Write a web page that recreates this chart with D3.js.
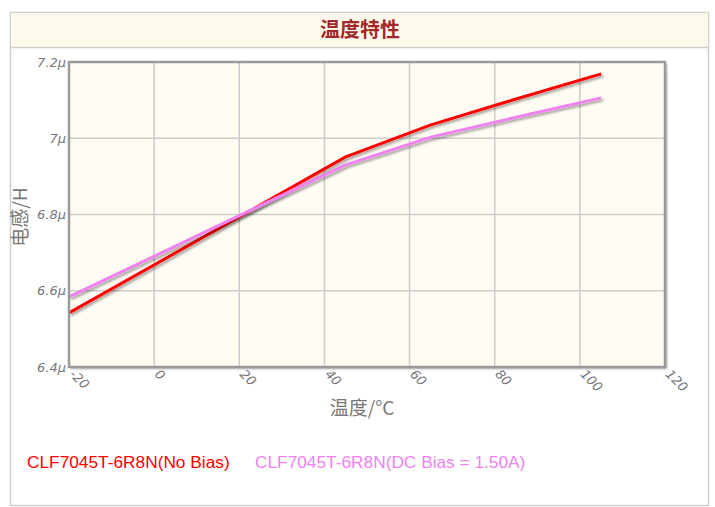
<!DOCTYPE html>
<html><head><meta charset="utf-8">
<script src="https://cdn.jsdelivr.net/npm/d3@7"></script>
<style>
html,body{margin:0;padding:0;background:#fff;}
svg{display:block;}
</style></head>
<body>
<svg id="chart" width="715" height="507"></svg>
<script>
const temps = [-20, 45, 65, 85, 105];
const noBias = [6.542, 6.951, 7.035, 7.103, 7.169];
const dcBias = [6.584, 6.930, 7.003, 7.055, 7.106];
const xTicks = [-20, 0, 20, 40, 60, 80, 100, 120];
const xTickLabels = ["-20", "0", "20", "40", "60", "80", "100", "120"];
const yTicks = [6.4, 6.6, 6.8, 7.0, 7.2];
const yTickLabels = ["6.4µ", "6.6µ", "6.8µ", "7µ", "7.2µ"];
const seriesNames = ["CLF7045T-6R8N(No Bias)", "CLF7045T-6R8N(DC Bias = 1.50A)"];
const seriesColors = ["#ff0000", "#ee82ee"];
const title = "温度特性";
const xTitle = "温度/°C";
const yTitle = "电感/H";

const svg = d3.select("#chart");
const defs = svg.append("defs");
const f = defs.append("filter").attr("id","sh").attr("x","-5%").attr("y","-5%").attr("width","115%").attr("height","130%");
f.append("feDropShadow").attr("dx",2).attr("dy",2).attr("stdDeviation",1.2).attr("flood-color","#000").attr("flood-opacity",0.35);

// outer box
svg.append("rect").attr("x",10.5).attr("y",12.5).attr("width",698).attr("height",493)
  .attr("fill","#fff").attr("stroke","#cfcfcf").attr("stroke-width",1.5);
svg.append("rect").attr("x",11).attr("y",13).attr("width",697).attr("height",34).attr("fill","#fef9eb");
svg.append("line").attr("x1",10).attr("x2",709).attr("y1",47.5).attr("y2",47.5).attr("stroke","#cfcfcf").attr("stroke-width",1.5);
svg.append("text").attr("x",360).attr("y",37).attr("text-anchor","middle")
  .attr("font-family","'Noto Sans CJK SC'").attr("font-weight","bold").attr("font-size",20)
  .attr("fill","#a3282a").text(title);

const L=69, R=665, T=62, B=367;
const x = d3.scaleLinear().domain([-20,120]).range([L,R]);
const y = d3.scaleLinear().domain([6.4,7.2]).range([B,T]);

// plot background with shadow
svg.append("rect").attr("x",L).attr("y",T).attr("width",R-L).attr("height",B-T)
  .attr("fill","#fffcf3").attr("filter","url(#sh)");

// grid
const g = svg.append("g");
g.selectAll(".vg").data(xTicks.slice(1,-1)).enter().append("line")
  .attr("x1",d=>x(d)).attr("x2",d=>x(d)).attr("y1",T).attr("y2",B)
  .attr("stroke","#cccccc").attr("stroke-width",1.5);
g.selectAll(".hg").data(yTicks.slice(1,-1)).enter().append("line")
  .attr("x1",L).attr("x2",R).attr("y1",d=>y(d)).attr("y2",d=>y(d))
  .attr("stroke","#cccccc").attr("stroke-width",1.5);

// lines
const line = d3.line().x((d,i)=>x(temps[i])).y(d=>y(d));
[noBias, dcBias].forEach((s,k)=>{
  svg.append("path").datum(s).attr("d",line).attr("fill","none")
    .attr("stroke",seriesColors[k]).attr("stroke-width",3).attr("stroke-linejoin","round")
    .attr("filter","url(#sh)");
});

// frame
svg.append("rect").attr("x",L).attr("y",T).attr("width",R-L).attr("height",B-T)
  .attr("fill","none").attr("stroke","#9a9a9a").attr("stroke-width",2.5);

// axes ticks
const yAxis = d3.axisLeft(y).tickValues(yTicks).tickFormat((d,i)=>yTickLabels[i]).tickSize(0).tickPadding(2);
const ya = svg.append("g").attr("transform",`translate(${L-1},0)`).call(yAxis);
ya.select(".domain").remove();
ya.selectAll("text").attr("font-family","'DejaVu Sans'").attr("font-size",13).attr("fill","#777").attr("font-style","italic");

const xAxis = d3.axisBottom(x).tickValues(xTicks).tickSize(0).tickFormat((d,i)=>xTickLabels[i]);
const xa = svg.append("g").attr("transform",`translate(0,${B+3})`).call(xAxis);
xa.select(".domain").remove();
xa.selectAll("text").attr("font-family","'DejaVu Sans'").attr("font-size",13).attr("fill","#777")
  .attr("font-style","italic")
  .attr("text-anchor","start").attr("dy",null).attr("y",0)
  .attr("transform","rotate(45) translate(3,4)");

// axis titles
svg.append("text").attr("x",362).attr("y",415).attr("text-anchor","middle")
  .attr("font-family","'Noto Sans CJK SC'").attr("font-size",19).attr("fill","#777").text(xTitle);
svg.append("text").attr("transform","translate(27,217) rotate(-90)").attr("text-anchor","middle")
  .attr("font-family","'Noto Sans CJK SC'").attr("font-size",19).attr("fill","#777").text(yTitle);

// legend
const lx = [27, 255];
seriesNames.forEach((n,k)=>{
  svg.append("text").attr("x",lx[k]).attr("y",468).attr("font-family","'Liberation Sans'")
    .attr("font-size",17.3).attr("fill",seriesColors[k]).text(n);
});
</script>
</body></html>
